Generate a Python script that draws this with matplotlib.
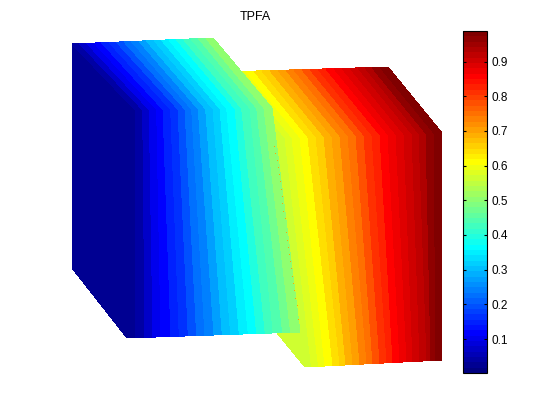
import matplotlib
matplotlib.use('Agg')
import matplotlib.pyplot as plt
from matplotlib.collections import PolyCollection
from matplotlib.colors import Normalize, LinearSegmentedColormap
from matplotlib.cm import ScalarMappable

plt.rcParams['font.family'] = ['Liberation Sans', 'DejaVu Sans']

# Values of the cells, one per band
left_values = [0.02, 0.045, 0.07, 0.095, 0.12, 0.145, 0.17, 0.195, 0.22, 0.245, 0.27,
               0.295, 0.32, 0.345, 0.37, 0.395, 0.42, 0.445, 0.47, 0.495]
right_values = [0.56, 0.578, 0.595, 0.612, 0.636, 0.66, 0.684, 0.708, 0.732, 0.756, 0.78,
                0.805, 0.83, 0.855, 0.872, 0.888, 0.905, 0.922, 0.94, 0.96, 0.985]

# Band edges (pixels): back of top face, front top, front bottom
left_back = [72, 72, 79.4, 86.8, 94.2, 101.6, 109, 116.5, 124, 131.5, 139, 146.5, 154,
             161.5, 169, 176.5, 183.5, 191, 198.5, 206, 213]
left_top = [128, 135, 142.7, 149.3, 156.7, 163, 170.7, 178, 185, 191.7, 198.3, 205.7,
            213, 220, 226.7, 235, 241.7, 250, 256.7, 264, 272]
left_bottom = [127, 135.7, 145, 153, 161, 171, 179.3, 188.3, 196.7, 205, 214, 222.3,
               230.7, 239.3, 248.3, 256.7, 265.3, 273.3, 282.7, 290.7, 300]
right_back = [224, 231, 238, 246, 254, 262, 270, 278, 286, 294, 302, 310, 318, 326, 334,
              342, 350, 358, 365, 372, 380, 388]
right_top = [278, 285, 292, 300, 308, 316, 324, 332, 340, 348, 356, 364, 372, 380, 388,
             396, 404, 412, 419, 426, 434, 442]
right_bottom = [305, 311.5, 318.5, 325, 333, 340, 346, 353, 360, 367, 373, 380, 387, 393,
                400, 407, 413, 420, 427, 431, 436, 442]

# y of each edge at its two ends (x0, y0, x1, y1)
left_edges = {'back': (72, 44, 213, 38), 'top': (135, 110, 272, 108), 'bottom': (127, 338, 300, 332)}
right_edges = {'back': (224, 72, 388, 67), 'top': (278, 138, 442, 133), 'bottom': (305, 367, 442, 360)}
left_side_bottom = (72, 268)
right_side_bottom = (250, 300)

# stray orange pixels along the fault
speck_x = [274, 275, 277, 278, 279, 280, 281, 282, 282, 283, 285, 286, 287, 288, 289,
           290, 291, 292, 293, 294, 295, 297, 298]
speck_y = [147, 154, 161, 168, 175, 182, 190, 197, 204, 212, 219, 233, 241, 248, 255,
           262, 269, 277, 284, 291, 299, 306, 320]

colorbar_ticks = [0.1, 0.2, 0.3, 0.4, 0.5, 0.6, 0.7, 0.8, 0.9]
vmin, vmax = 0.002, 0.988

# the old MATLAB jet, 64 levels; matplotlib's own jet puts yellow and cyan elsewhere
jet_stops = [(0 / 63, (0, 0, 0.5)), (7 / 63, (0, 0, 1)), (23 / 63, (0, 1, 1)),
             (39 / 63, (1, 1, 0)), (55 / 63, (1, 0, 0)), (63 / 63, (0.5, 0, 0))]


def edge_y(edge, x):
    x0, y0, x1, y1 = edge
    return y0 + (y1 - y0) * (x - x0) / (x1 - x0)


def block_faces(back, top, bottom, values, edges, side_bottom):
    polys = []
    vals = []
    # side face goes first, it has the colour of the first band
    polys.append([(back[0], edge_y(edges['back'], back[0])), (top[0], edge_y(edges['top'], top[0])),
                  (bottom[0], edge_y(edges['bottom'], bottom[0])), side_bottom])
    vals.append(values[0])
    for i, v in enumerate(values):
        polys.append([(back[i], edge_y(edges['back'], back[i])),
                      (back[i + 1], edge_y(edges['back'], back[i + 1])),
                      (top[i + 1], edge_y(edges['top'], top[i + 1])),
                      (top[i], edge_y(edges['top'], top[i]))])
        vals.append(v)
        polys.append([(top[i], edge_y(edges['top'], top[i])),
                      (top[i + 1], edge_y(edges['top'], top[i + 1])),
                      (bottom[i + 1], edge_y(edges['bottom'], bottom[i + 1])),
                      (bottom[i], edge_y(edges['bottom'], bottom[i]))])
        vals.append(v)
    return polys, vals


cmap = LinearSegmentedColormap.from_list('matlab_jet', jet_stops, N=64)
norm = Normalize(vmin, vmax)

fig = plt.figure(figsize=(5.6, 4.2), dpi=100)
ax = fig.add_axes([0, 0, 1, 1])
ax.set_xlim(0, 560)
ax.set_ylim(420, 0)
ax.axis('off')

# right block is drawn first, the left one sits in front of it
for back, top, bottom, values, edges, side in [
        (right_back, right_top, right_bottom, right_values, right_edges, right_side_bottom),
        (left_back, left_top, left_bottom, left_values, left_edges, left_side_bottom)]:
    polys, vals = block_faces(back, top, bottom, values, edges, side)
    coll = PolyCollection(polys, array=vals, cmap=cmap, norm=norm, edgecolors='none', antialiaseds=False)
    ax.add_collection(coll)

ax.plot(speck_x, speck_y, ',', color='orange')

ax.text(255.5, 16.5, 'TPFA', ha='center', va='center', fontsize=9)

cax = fig.add_axes([462.5 / 560, 1 - 373 / 420, 24.5 / 560, 342 / 420])
cb = fig.colorbar(ScalarMappable(norm=norm, cmap=cmap), cax=cax)
cb.set_ticks(colorbar_ticks)
cb.ax.set_yticklabels([str(t) for t in colorbar_ticks])
cb.ax.tick_params(axis='y', direction='in', left=True, right=True, length=2.5, width=0.8, labelsize=8.5, pad=3)
cb.outline.set_linewidth(0.8)

fig.savefig('out.png', dpi=100)
